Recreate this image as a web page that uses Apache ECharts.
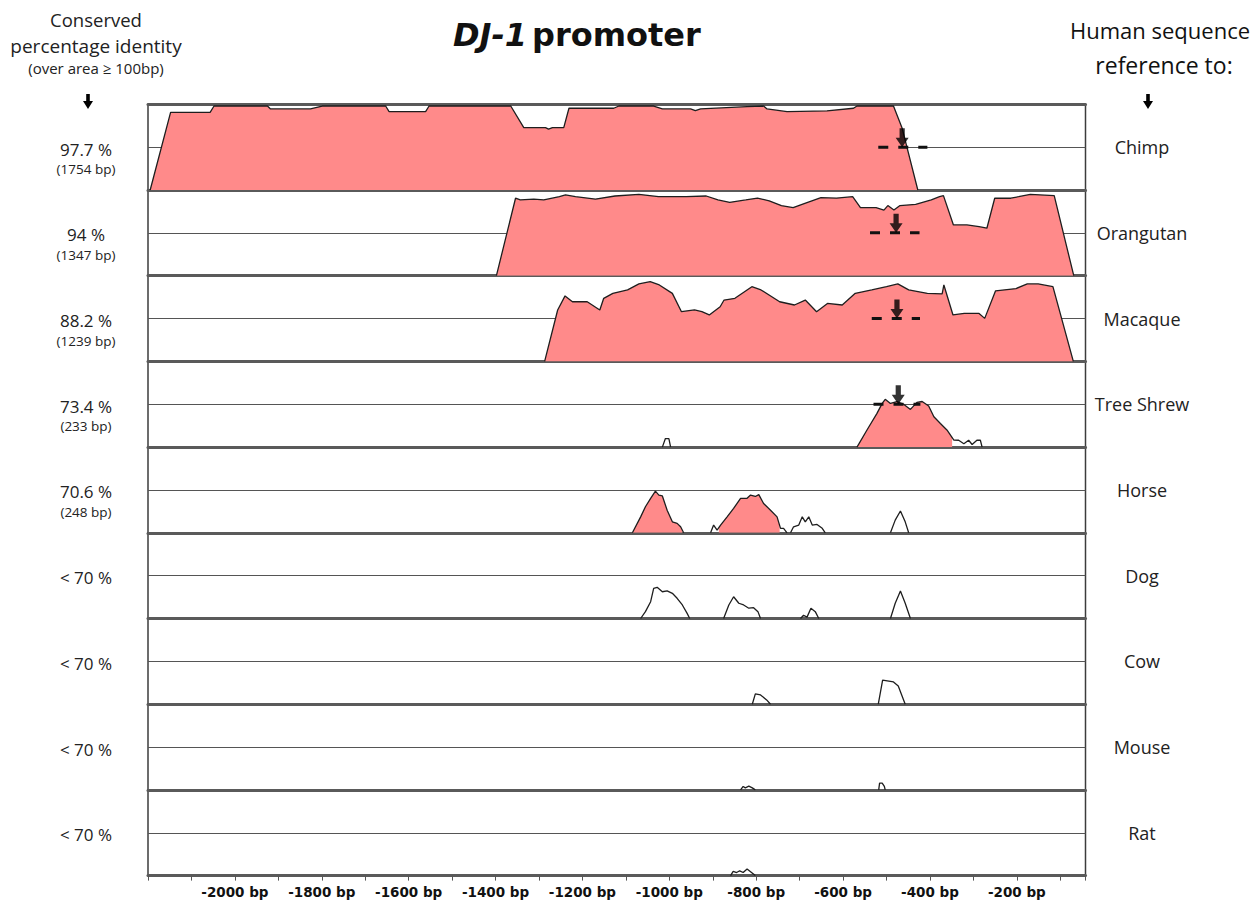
<!DOCTYPE html>
<html>
<head>
<meta charset="utf-8">
<script src="https://cdn.jsdelivr.net/npm/echarts@6/dist/echarts.min.js"></script>
<style>
html,body{margin:0;padding:0;background:#fff;}
#chart{width:1255px;height:903px;}
</style>
</head>
<body>
<div id="chart"></div>
<script>
// ---------------- DATA ----------------
const species = ['Chimp','Orangutan','Macaque','Tree Shrew','Horse','Dog','Cow','Mouse','Rat'];
const identityLabels = ['97.7 %','94 %','88.2 %','73.4 %','70.6 %','< 70 %','< 70 %','< 70 %','< 70 %'];
const lengthLabels = ['(1754 bp)','(1347 bp)','(1239 bp)','(233 bp)','(248 bp)','','','',''];
const tickLabels = [-2000,-1800,-1600,-1400,-1200,-1000,-800,-600,-400,-200];

// conservation profiles: [position (bp), % identity]
const chimp = [[-2195,50],[-2148,95.3],[-2057,95.3],[-2048,99],[-1925,99],[-1918,97.3],[-1826,97.3],[-1799,99],[-1653,99],[-1645,95.7],[-1561,95.7],[-1553,99],[-1365,99],[-1335,86.4],[-1285,86.4],[-1278,85.5],[-1269,86.4],[-1243,86.4],[-1231,97.7],[-1128,97.7],[-1116,99],[-1036,99],[-1016,97.3],[-951,97.3],[-940,96.3],[-928,97.3],[-821,98.6],[-783,99],[-775,97.3],[-729,95.7],[-637,96.2],[-576,97.7],[-568,99],[-484,99],[-464,86],[-428,50]];
const orangutan = [[-1398,50],[-1354,95.2],[-1343,94.2],[-1312,94.7],[-1289,94.2],[-1253,96.1],[-1239,97.1],[-1216,96.1],[-1170,94.7],[-1125,96.5],[-1070,97.5],[-1025,96.1],[-961,96.1],[-915,96.5],[-888,94.2],[-861,92.8],[-824,94.2],[-797,95.3],[-770,93.7],[-742,90.9],[-715,89.7],[-688,92.2],[-651,95.5],[-615,95.3],[-578,96.1],[-560,89.7],[-524,89.7],[-506,88.3],[-497,90.9],[-483,88.3],[-469,90.9],[-433,91.6],[-397,94.2],[-378,96.1],[-369,96.7],[-346,79.6],[-315,79.6],[-287,78.6],[-269,77.7],[-251,95.2],[-214,95.2],[-196,96.1],[-169,97.5],[-114,96.7],[-69,50]];
const macaque = [[-1287,50],[-1257,80],[-1240,88.2],[-1223,84.8],[-1189,84.8],[-1160,80],[-1151,86.8],[-1130,89.7],[-1096,91.7],[-1070,95.2],[-1044,96.5],[-1023,94.6],[-993,89.7],[-972,79],[-942,80],[-925,79],[-908,77.1],[-883,81.9],[-874,85.8],[-849,86.8],[-810,93.6],[-789,91.7],[-746,84.8],[-712,82.9],[-687,85.8],[-661,79],[-636,83.8],[-602,82.9],[-572,89.7],[-534,91.7],[-500,93.6],[-474,95.2],[-449,91.7],[-406,89.7],[-372,89.4],[-368,94.6],[-347,77.1],[-321,78],[-287,78],[-274,75.1],[-249,91.2],[-202,92.5],[-176,95.2],[-151,95.2],[-117,93.6],[-70,50]];
const treeShrew = [[-1016,50],[-1009,55],[-1001,55],[-997,50],[-568,50],[-545,60],[-522,69.7],[-510,75.5],[-503,77.9],[-491,75.5],[-476,76.6],[-460,74.9],[-445,72],[-430,76.1],[-418,76.6],[-403,74],[-391,67.7],[-376,63.8],[-361,60],[-345,54.1],[-334,54],[-322,52],[-311,54],[-303,51.5],[-292,54],[-284,54],[-280,50]];
const horse = [[-1085,50],[-1066,59.3],[-1055,65.2],[-1043,70.1],[-1032,74.3],[-1024,72],[-1016,71.5],[-1005,63.2],[-993,56.4],[-982,55.5],[-974,53.5],[-967,50],[-905,50],[-898,54.5],[-890,51.5],[-882,54.5],[-867,59.3],[-852,64.2],[-836,70.1],[-821,70.1],[-813,72],[-802,71.2],[-794,72.3],[-783,67.1],[-767,63.2],[-752,59.3],[-744,52.6],[-737,52.6],[-729,50],[-721,50],[-714,53.5],[-702,54.5],[-694,59.3],[-687,56.4],[-679,59.3],[-671,54.5],[-660,54.9],[-648,52.6],[-641,50],[-491,50],[-480,57.4],[-468,62.7],[-457,56.4],[-449,50]];
const dog = [[-1066,50],[-1055,54],[-1043,59.8],[-1036,67.6],[-1028,68.2],[-1016,65.6],[-1005,66.1],[-993,64.7],[-982,61.8],[-970,57.9],[-959,53],[-953,50],[-875,50],[-863,57.9],[-852,62.7],[-840,58.9],[-829,57.9],[-817,56],[-806,56.3],[-796,54],[-790,50],[-698,50],[-691,51.9],[-683,50.8],[-674,56],[-664,54],[-656,50],[-491,50],[-480,58.9],[-468,66],[-457,58.9],[-445,50]];
const cow = [[-809,50],[-802,56],[-790,55.4],[-776,52.5],[-767,50],[-519,50],[-509,64.1],[-484,63],[-473,60.6],[-457,50]];
const mouse = [[-836,50],[-830,52],[-825,51.2],[-817,52.2],[-809,51.2],[-802,50],[-518,50],[-516,54],[-510,54],[-505,52],[-503,50]];
const rat = [[-859,50],[-853,52.5],[-845,51.8],[-838,52.8],[-830,51.8],[-821,53.9],[-813,52.3],[-802,50]];

// regions of conserved sequence (filled)
const chimpFill = [[-2195,-428]];
const orangutanFill = [[-1398,-69]];
const macaqueFill = [[-1287,-70]];
const treeShrewFill = [[-568,-349]];
const horseFill = [[-1085,-970],[-886,-746]];

// marked site (arrow + dashed bar) per species
const arrowBp = [-464,-478,-476,-473,null,null,null,null,null];
const dashStart = [-519,-538,-534,-530,null,null,null,null,null];
const dashEnd = [-406,-424,-423,-422,null,null,null,null,null];

const curves = [chimp, orangutan, macaque, treeShrew, horse, dog, cow, mouse, rat];
const fills = [chimpFill, orangutanFill, macaqueFill, treeShrewFill, horseFill, [], [], [], []];

// ---------------- LAYOUT ----------------
const XMIN = -2200, XMAX = -42;
const GRID_LEFT = 148, GRID_W = 937.5, TOP0 = 104.3, PANEL_H = 85.7;
const FILL_COLOR = '#FF8A8A';
const TXT_FONT = '"Open Sans", "DejaVu Sans", sans-serif';

function interp(pts, x) {
  for (let k = 0; k < pts.length - 1; k++) {
    const a = pts[k], b = pts[k+1];
    if (x >= a[0] && x <= b[0]) {
      if (b[0] === a[0]) return a[1];
      return a[1] + (b[1]-a[1]) * (x-a[0])/(b[0]-a[0]);
    }
  }
  return 50;
}
function clip(pts, a, b) {
  const out = [[a, interp(pts, a)]];
  pts.forEach(p => { if (p[0] > a && p[0] < b) out.push(p); });
  out.push([b, interp(pts, b)]);
  return out;
}
// break the outline where it runs along the baseline between peaks
function withGaps(pts) {
  const out = [];
  pts.forEach((p, k) => {
    if (k > 0 && pts[k-1][1] === 50 && p[1] === 50) out.push([(pts[k-1][0] + p[0]) / 2, null]);
    out.push(p);
  });
  return out;
}

const grids = [], xAxes = [], yAxes = [], series = [], graphics = [];
for (let i = 0; i < 9; i++) {
  const top = TOP0 + i * PANEL_H;
  grids.push({left: GRID_LEFT, width: GRID_W, top: top, height: PANEL_H, show: true,
    borderColor: '#3c3c3c', borderWidth: 1.5, backgroundColor: '#fff'});
  xAxes.push({gridIndex: i, type: 'value', min: XMIN, max: XMAX, interval: 100, position: 'bottom',
    axisLine: {show: true, onZero: false, lineStyle: {color: '#5a5a5a', width: 3}},
    axisTick: {show: i === 8, length: 5, lineStyle: {color: '#555', width: 1}},
    axisLabel: {show: i === 8, margin: 9, color: '#111', fontFamily: '"DejaVu Sans", sans-serif', fontWeight: 'bold', fontSize: 13.5,
      formatter: v => tickLabels.indexOf(v) >= 0 ? v + ' bp' : ''},
    splitLine: {show: false}});
  yAxes.push({gridIndex: i, type: 'value', min: 50, max: 100, interval: 25,
    axisLine: {show: false}, axisTick: {show: false}, axisLabel: {show: false},
    splitLine: {show: true, showMinLine: false, showMaxLine: false, lineStyle: {color: '#555', width: 1}}});

  fills[i].forEach(r => {
    series.push({type: 'line', xAxisIndex: i, yAxisIndex: i, data: clip(curves[i], r[0], r[1]),
      showSymbol: false, silent: true, z: 1, lineStyle: {width: 0, color: FILL_COLOR},
      areaStyle: {color: FILL_COLOR, opacity: 1}});
  });
  series.push({type: 'line', xAxisIndex: i, yAxisIndex: i, data: withGaps(curves[i]), showSymbol: false, silent: true, z: 2,
    connectNulls: false, lineStyle: {color: '#1e1e1e', width: 1.3}});
  if (arrowBp[i] !== null) {
    series.push({type: 'line', xAxisIndex: i, yAxisIndex: i, data: [[dashStart[i], 75], [dashEnd[i], 75]],
      showSymbol: false, silent: true, z: 3, lineStyle: {color: '#111', width: 3, type: [10, 10]}});
    series.push({type: 'scatter', xAxisIndex: i, yAxisIndex: i, data: [[arrowBp[i], 75]], silent: true, z: 4,
      symbol: 'path://M3,0 L7,0 L7,9 L10,9 L5,18 L0,9 L3,9 Z', symbolSize: [13, 19], symbolOffset: [0, -9.5],
      itemStyle: {color: '#000'}});
  }
  const mid = top + PANEL_H / 2;
  graphics.push({type: 'text', x: 86, y: mid + 2, style: {text: identityLabels[i], font: '17px ' + TXT_FONT,
    fill: '#222', textAlign: 'center', textVerticalAlign: 'middle'}});
  if (lengthLabels[i]) graphics.push({type: 'text', x: 86, y: mid + 22, style: {text: lengthLabels[i], font: '13.5px ' + TXT_FONT,
    fill: '#222', textAlign: 'center', textVerticalAlign: 'middle'}});
  graphics.push({type: 'text', x: 1142, y: mid, style: {text: species[i], font: '18px ' + TXT_FONT,
    fill: '#222', textAlign: 'center', textVerticalAlign: 'middle'}});
}
// top border of first panel
xAxes.push({gridIndex: 0, type: 'value', min: XMIN, max: XMAX, interval: 100, position: 'top',
  axisLine: {show: true, onZero: false, lineStyle: {color: '#5a5a5a', width: 3}},
  axisTick: {show: false}, axisLabel: {show: false}, splitLine: {show: false}});

// headers
graphics.push({type: 'text', x: 96, y: 19, style: {text: 'Conserved', font: '18.5px ' + TXT_FONT, fill: '#222', textAlign: 'center', textVerticalAlign: 'middle'}});
graphics.push({type: 'text', x: 96, y: 46, style: {text: 'percentage identity', font: '19px ' + TXT_FONT, fill: '#222', textAlign: 'center', textVerticalAlign: 'middle'}});
graphics.push({type: 'text', x: 96, y: 68, style: {text: '(over area \u2265 100bp)', font: '15px ' + TXT_FONT, fill: '#222', textAlign: 'center', textVerticalAlign: 'middle'}});
graphics.push({type: 'text', x: 1160, y: 30, style: {text: 'Human sequence', font: '22px ' + TXT_FONT, fill: '#111', textAlign: 'center', textVerticalAlign: 'middle'}});
graphics.push({type: 'text', x: 1164, y: 65, style: {text: 'reference to:', font: '23px ' + TXT_FONT, fill: '#111', textAlign: 'center', textVerticalAlign: 'middle'}});
function arrowPts(cx, y0) {
  return [[cx-1.8,y0],[cx+1.8,y0],[cx+1.8,y0+7],[cx+5,y0+7],[cx,y0+15],[cx-5,y0+7],[cx-1.8,y0+7]];
}
graphics.push({type: 'polygon', shape: {points: arrowPts(88, 94)}, style: {fill: '#000'}});
graphics.push({type: 'polygon', shape: {points: arrowPts(1148, 94)}, style: {fill: '#000'}});

const chart = echarts.init(document.getElementById('chart'), null, {renderer: 'svg'});
chart.setOption({
  animation: false,
  backgroundColor: '#fff',
  title: {text: '{a|DJ-1} {b|promoter}', left: 448, top: 14,
    textStyle: {rich: {
      a: {fontFamily: '"DejaVu Sans", sans-serif', fontWeight: 'bold', fontStyle: 'italic', fontSize: 32, color: '#111'},
      b: {fontFamily: '"DejaVu Sans", sans-serif', fontWeight: 'bold', fontSize: 32, color: '#111'}}}},
  grid: grids, xAxis: xAxes, yAxis: yAxes, series: series, graphic: graphics
});
</script>
</body>
</html>
